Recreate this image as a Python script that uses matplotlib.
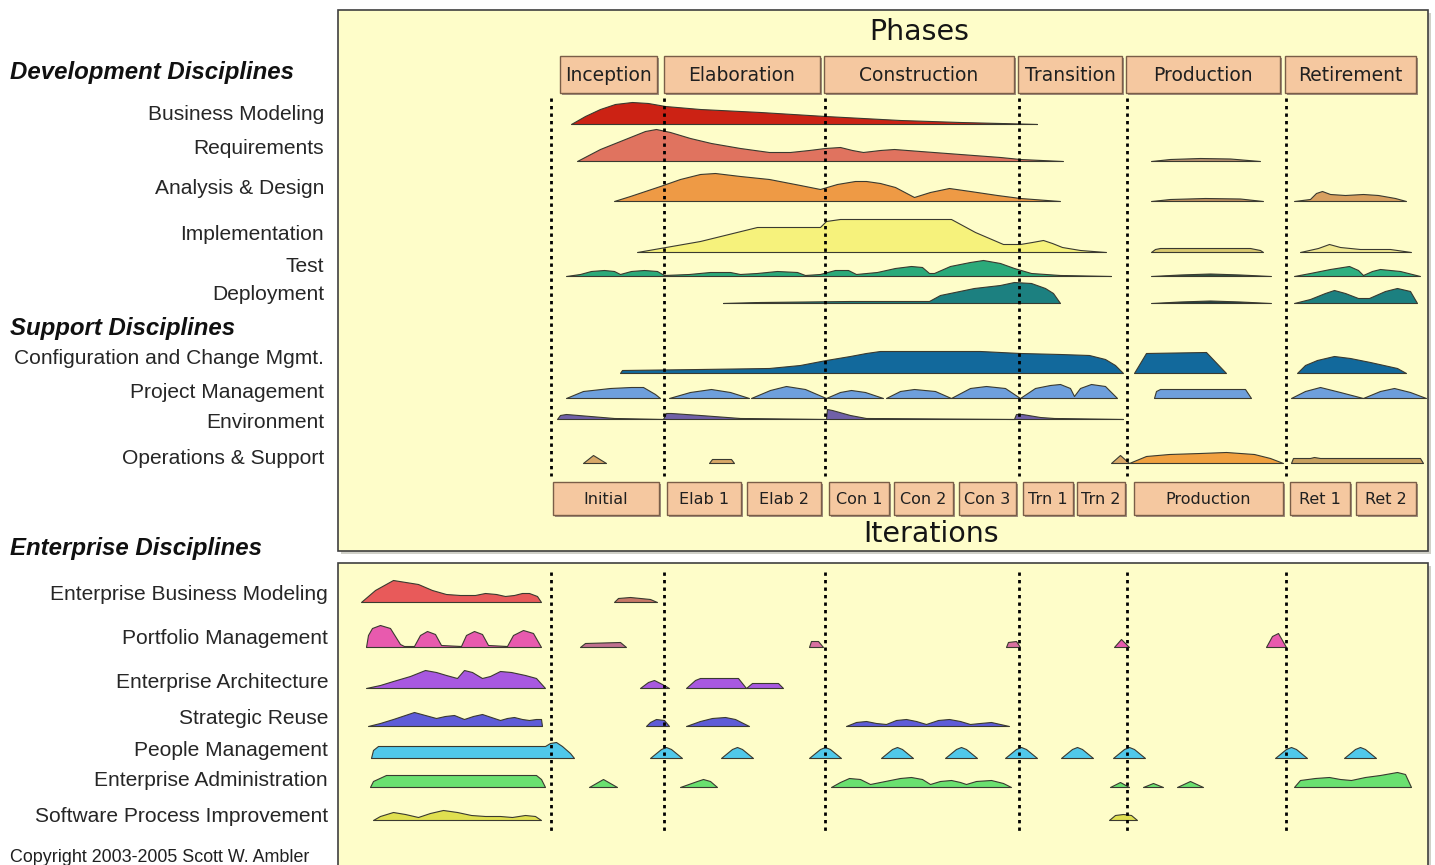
import matplotlib
matplotlib.use("Agg")
import matplotlib.pyplot as plt
from matplotlib.patches import Rectangle

# --- phases / iterations (time axis, same units as the hump profiles) ---
phase_names = ["Inception", "Elaboration", "Construction", "Transition", "Production", "Retirement"]
phase_start = [560, 664, 824, 1018, 1126, 1285]
phase_end = [657, 820, 1014, 1122, 1280, 1416]
phase_bounds = [551, 664, 825, 1019, 1127, 1286]

iter_names = ["Initial", "Elab 1", "Elab 2", "Con 1", "Con 2", "Con 3", "Trn 1", "Trn 2",
              "Production", "Ret 1", "Ret 2"]
iter_start = [553, 667, 747, 829, 894, 959, 1023, 1077, 1134, 1290, 1356]
iter_end = [659, 741, 821, 889, 953, 1016, 1073, 1125, 1283, 1350, 1416]

# --- hump profiles: list of segments, each a list of (time, effort) ---
business_modeling = [
    [(571, 0), (585, 8), (600, 15), (615, 20), (632, 22), (648, 21), (665, 18), (700, 15),
     (760, 12), (825, 8), (900, 4), (960, 2), (1000, 1), (1037, 0)],
]
requirements = [
    [(577, 0), (600, 12), (625, 22), (645, 30), (656, 32), (670, 29), (690, 23), (711, 18),
     (740, 13), (769, 9), (790, 9), (809, 11), (825, 13), (840, 14), (852, 11), (863, 9),
     (880, 11), (894, 12), (920, 10), (960, 7), (1000, 4), (1020, 2), (1063, 0)],
    [(1151, 0), (1170, 2), (1200, 3), (1230, 2.5), (1260, 0)],
]
analysis_design = [
    [(614, 0), (630, 5), (645, 10), (660, 15), (680, 22), (700, 27), (715, 28), (740, 25),
     (769, 22), (800, 16), (820, 12), (837, 17), (855, 20), (866, 20), (880, 18), (895, 14),
     (914, 4), (930, 9), (949, 13), (970, 10), (997, 6), (1020, 3), (1060, 0)],
    [(1151, 0), (1170, 2), (1205, 3), (1240, 2.5), (1263, 0)],
    [(1294, 0), (1310, 2), (1316, 8), (1322, 10), (1330, 7), (1345, 6), (1363, 7),
     (1378, 6), (1395, 3), (1406, 0)],
]
implementation = [
    [(637, 0), (700, 11), (757, 25), (820, 25), (826, 31), (840, 33), (951, 33), (975, 20),
     (1003, 8), (1020, 8), (1032, 10), (1043, 12), (1052, 9), (1062, 5), (1080, 2), (1106, 0)],
    [(1151, 0), (1155, 3), (1160, 4), (1250, 4), (1260, 2), (1263, 0)],
    [(1300, 0), (1318, 4), (1329, 8), (1340, 5), (1360, 3), (1390, 3), (1411, 0)],
]
test = [
    [(566, 0), (580, 2), (591, 5), (604, 6), (614, 5), (620, 2), (631, 5), (644, 6), (657, 5),
     (664, 1), (689, 2), (710, 4), (730, 4), (740, 2), (757, 3), (777, 5), (797, 4), (805, 1),
     (820, 2), (835, 6), (848, 6), (856, 2), (877, 4), (895, 8), (911, 10), (922, 9), (929, 3),
     (934, 3), (950, 10), (970, 14), (983, 16), (1000, 13), (1014, 8), (1031, 3), (1060, 1),
     (1111, 0)],
    [(1151, 0), (1180, 1.5), (1210, 2.5), (1240, 1.5), (1271, 0)],
    [(1294, 0), (1310, 3), (1330, 7), (1349, 10), (1358, 6), (1363, 1), (1372, 5), (1380, 7),
     (1400, 5), (1420, 0)],
]
deployment = [
    [(723, 0), (760, 1), (850, 2), (929, 2), (940, 8), (974, 15), (1000, 18), (1014, 21),
     (1031, 20), (1045, 15), (1053, 10), (1060, 0)],
    [(1151, 0), (1180, 1.5), (1210, 2.5), (1240, 1.5), (1271, 0)],
    [(1294, 0), (1310, 4), (1325, 10), (1334, 13), (1345, 10), (1358, 5), (1369, 5),
     (1385, 12), (1397, 15), (1410, 12), (1417, 0)],
]
config_change = [
    [(620, 0), (622, 3), (700, 4), (769, 5), (800, 8), (826, 13), (850, 17), (866, 20),
     (880, 22), (917, 22), (980, 22), (1020, 20), (1060, 19), (1089, 18), (1105, 14),
     (1115, 8), (1123, 0)],
    [(1134, 0), (1146, 20), (1206, 21), (1226, 0)],
    [(1297, 0), (1305, 8), (1317, 13), (1334, 17), (1350, 15), (1370, 11), (1397, 5), (1406, 0)],
]
project_mgmt = [
    [(566, 0), (583, 7), (610, 10), (631, 11), (643, 11), (655, 4), (660, 0)],
    [(669, 0), (690, 6), (711, 9), (730, 6), (749, 0)],
    [(751, 0), (770, 8), (786, 12), (805, 9), (826, 0)],
    [(826, 0), (840, 6), (851, 8), (865, 6), (883, 0)],
    [(886, 0), (900, 7), (914, 9), (935, 7), (951, 0)],
    [(951, 0), (970, 10), (986, 12), (1005, 10), (1020, 0)],
    [(1020, 0), (1035, 10), (1050, 13), (1060, 14), (1070, 10), (1074, 2), (1080, 10),
     (1091, 14), (1105, 12), (1117, 0)],
    [(1154, 0), (1156, 7), (1160, 9), (1245, 9), (1251, 0)],
    [(1291, 0), (1305, 7), (1320, 11), (1340, 6), (1363, 0)],
    [(1363, 0), (1380, 7), (1394, 10), (1410, 6), (1426, 0)],
]
environment = [
    [(557, 0), (560, 4), (566, 5), (590, 3), (614, 1), (663, 0)],
    [(663, 0), (666, 6), (671, 6), (700, 4), (740, 1), (826, 0)],
    [(826, 0), (827, 10), (832, 9), (850, 4), (866, 1), (1014, 0)],
    [(1014, 0), (1016, 5), (1022, 5), (1040, 2), (1054, 1), (1123, 0)],
]
operations = [
    [(583, 0), (593, 8), (606, 0)],
    [(709, 0), (712, 4), (731, 4), (734, 0)],
    [(1111, 0), (1120, 8), (1129, 0)],
    [(1129, 0), (1146, 7), (1169, 9), (1200, 10), (1226, 11), (1254, 9), (1270, 5), (1283, 0)],
    [(1291, 0), (1293, 5), (1310, 5), (1314, 6), (1320, 5), (1420, 5), (1423, 0)],
]

ent_business_modeling = [
    [(361, 0), (375, 12), (393, 22), (418, 18), (432, 12), (446, 8), (460, 7), (475, 7),
     (485, 9), (496, 8), (505, 6), (514, 7), (522, 9), (529, 9), (537, 6), (541, 0)],
    [(614, 0), (618, 4), (630, 5), (650, 3), (657, 0)],
]
portfolio_mgmt = [
    [(366, 0), (368, 12), (372, 19), (380, 22), (390, 19), (400, 3), (404, 1), (414, 1),
     (420, 12), (427, 16), (435, 13), (441, 2), (461, 1), (466, 12), (474, 16), (482, 13),
     (488, 2), (507, 1), (513, 12), (523, 17), (533, 14), (541, 0)],
    [(580, 0), (585, 4), (620, 5), (626, 0)],
    [(809, 0), (811, 6), (818, 6), (823, 0)],
    [(1006, 0), (1008, 5), (1016, 6), (1020, 0)],
    [(1114, 0), (1121, 8), (1129, 0)],
    [(1266, 0), (1272, 11), (1278, 14), (1286, 0)],
]
ent_architecture = [
    [(366, 0), (380, 3), (393, 7), (410, 12), (425, 18), (436, 16), (446, 13), (457, 10),
     (464, 18), (472, 16), (482, 10), (490, 12), (500, 17), (511, 16), (525, 13), (536, 10),
     (545, 0)],
    [(640, 0), (648, 6), (654, 8), (662, 4), (669, 0)],
    [(686, 0), (695, 8), (700, 10), (738, 10), (746, 0)],
    [(746, 0), (752, 5), (778, 5), (783, 0)],
]
strategic_reuse = [
    [(368, 0), (380, 3), (393, 7), (405, 11), (414, 14), (425, 11), (436, 8), (445, 10),
     (454, 11), (464, 7), (473, 10), (482, 12), (491, 9), (500, 6), (507, 8), (514, 9),
     (522, 7), (529, 6), (536, 7), (541, 7), (542, 0)],
    [(646, 0), (650, 4), (656, 7), (664, 6), (669, 0)],
    [(686, 0), (700, 5), (712, 8), (725, 9), (735, 7), (749, 0)],
    [(846, 0), (856, 4), (866, 5), (876, 3), (886, 2), (896, 6), (906, 7), (916, 5), (926, 2),
     (938, 6), (949, 7), (960, 5), (970, 2), (980, 3), (991, 4), (1009, 0)],
]
people_mgmt = [
    [(371, 0), (373, 8), (378, 12), (545, 12), (550, 15), (556, 16), (562, 12), (570, 5), (574, 0)],
    [(650, 0), (661, 9), (666, 11), (671, 9), (682, 0)],
    [(721, 0), (732, 9), (737, 11), (742, 9), (753, 0)],
    [(809, 0), (820, 9), (825, 11), (830, 9), (841, 0)],
    [(881, 0), (892, 9), (897, 11), (902, 9), (913, 0)],
    [(945, 0), (956, 9), (961, 11), (966, 9), (977, 0)],
    [(1005, 0), (1016, 9), (1021, 11), (1026, 9), (1037, 0)],
    [(1061, 0), (1072, 9), (1077, 11), (1082, 9), (1093, 0)],
    [(1113, 0), (1124, 9), (1129, 11), (1134, 9), (1145, 0)],
    [(1275, 0), (1286, 9), (1291, 11), (1296, 9), (1307, 0)],
    [(1344, 0), (1355, 9), (1360, 11), (1365, 9), (1376, 0)],
]
ent_administration = [
    [(370, 0), (373, 6), (386, 12), (536, 12), (541, 8), (545, 0)],
    [(589, 0), (603, 8), (617, 0)],
    [(680, 0), (697, 6), (703, 8), (710, 6), (717, 0)],
    [(831, 0), (840, 5), (849, 9), (860, 8), (870, 3), (885, 6), (900, 9), (911, 10), (922, 8),
     (930, 3), (940, 6), (951, 7), (960, 5), (966, 3), (976, 6), (991, 7), (1003, 4), (1011, 0)],
    [(1110, 0), (1120, 5), (1129, 0)],
    [(1143, 0), (1153, 4), (1163, 0)],
    [(1177, 0), (1190, 6), (1203, 0)],
    [(1294, 0), (1300, 7), (1315, 9), (1329, 10), (1340, 8), (1351, 7), (1365, 10), (1380, 12),
     (1397, 15), (1405, 13), (1411, 0)],
]
software_process = [
    [(373, 0), (380, 4), (393, 8), (405, 6), (418, 3), (430, 7), (443, 10), (457, 8), (471, 5),
     (485, 4), (500, 4), (512, 3), (525, 5), (535, 4), (541, 0)],
    [(1109, 0), (1115, 5), (1123, 6), (1131, 5), (1137, 0)],
]

# --- layout: label, label y, hump baseline y, profile, colour per segment ---
dev_rows = [
    ("Business Modeling", 115, 124, business_modeling, ["#CC2214"]),
    ("Requirements", 148, 161, requirements, ["#E0735F", "#B89070"]),
    ("Analysis & Design", 189, 201, analysis_design, ["#EE9A45", "#C09060", "#D8A060"]),
    ("Implementation", 235, 252, implementation, ["#F6F27C", "#D8C870", "#F0E890"]),
    ("Test", 266, 276, test, ["#2BAA7A", "#305040", "#2EB080"]),
    ("Deployment", 294, 303, deployment, ["#1C8080", "#204040", "#1C8080"]),
]
support_rows = [
    ("Configuration and Change Mgmt.", 359, 373, config_change, ["#12699C"] * 3),
    ("Project Management", 392, 398, project_mgmt, ["#6E9FDC"] * 10),
    ("Environment", 423, 419, environment, ["#7060A8"] * 4),
    ("Operations & Support", 458, 463, operations,
     ["#D8A868", "#D8A868", "#D8A868", "#F0A040", "#C8A060"]),
]
ent_rows = [
    ("Enterprise Business Modeling", 594, 602, ent_business_modeling, ["#E85A5A", "#C87868"]),
    ("Portfolio Management", 638, 647, portfolio_mgmt,
     ["#E85AAE", "#C07090", "#D870A0", "#D870A0", "#E85AAE", "#E85AAE"]),
    ("Enterprise Architecture", 682, 688, ent_architecture, ["#A858E0"] * 4),
    ("Strategic Reuse", 719, 726, strategic_reuse, ["#5E5CD8"] * 4),
    ("People Management", 751, 758, people_mgmt, ["#50C8EA"] * 11),
    ("Enterprise Administration", 781, 787, ent_administration, ["#6AE070"] * 8),
    ("Software Process Improvement", 816, 820, software_process, ["#E0E050"] * 2),
]

panel_color = "#FEFDC9"
box_color = "#F5C8A0"
label_font = "Liberation Sans"
label_color = "#262626"

fig = plt.figure(figsize=(14.35, 8.65), dpi=100)
ax = fig.add_axes([0, 0, 1, 1])
ax.set_xlim(0, 1435)
ax.set_ylim(865, 0)
ax.axis("off")

# panels with a soft shadow
for top, height in [(10, 541), (563, 320)]:
    ax.add_patch(Rectangle((341, top + 3), 1090, height, facecolor="#D0D0C8", edgecolor="none", zorder=0))
    ax.add_patch(Rectangle((338, top), 1090, height, facecolor=panel_color, edgecolor="#404040",
                           lw=1.2, zorder=1))

ax.text(919, 32, "Phases", ha="center", va="center", fontsize=20.5, family="DejaVu Sans",
        color="#151515", zorder=5)
ax.text(931, 534, "Iterations", ha="center", va="center", fontsize=20.5, family="DejaVu Sans",
        color="#151515", zorder=5)


def draw_box(x0, x1, y0, y1, text, size):
    ax.add_patch(Rectangle((x0 + 2, y0 + 2), x1 - x0, y1 - y0, facecolor="#A09080",
                           edgecolor="none", zorder=3))
    ax.add_patch(Rectangle((x0, y0), x1 - x0, y1 - y0, facecolor=box_color, edgecolor="#7A5E48",
                           lw=1.0, zorder=4))
    ax.text((x0 + x1) / 2, (y0 + y1) / 2 + 1, text, ha="center", va="center", fontsize=size,
            family="DejaVu Sans", color="#202020", zorder=5)


for name, s, e in zip(phase_names, phase_start, phase_end):
    draw_box(s, e, 56, 93, name, 13.5)
for name, s, e in zip(iter_names, iter_start, iter_end):
    draw_box(s, e, 482, 515, name, 11.5)

# phase boundaries
ax.vlines(phase_bounds, 98, 476, colors="black", lw=2, linestyles=(0, (1.2, 1.5)), zorder=6)
ax.vlines(phase_bounds, 572, 832, colors="black", lw=2, linestyles=(0, (1.2, 1.5)), zorder=6)


def draw_row(base, profile, colors):
    for seg, col in zip(profile, colors):
        t = [p[0] for p in seg]
        h = [base - p[1] for p in seg]
        ax.fill_between(t, base, h, facecolor=col, edgecolor="#3A3A30", lw=0.8, zorder=2)


for head, hy in [("Development Disciplines", 73), ("Support Disciplines", 328),
                 ("Enterprise Disciplines", 549)]:
    ax.text(10, hy, head, ha="left", va="center", fontsize=17.3, family=label_font,
            weight="bold", style="italic", color="#101010")

for label, ly, base, profile, colors in dev_rows + support_rows:
    ax.text(324, ly, label, ha="right", va="center", fontsize=15.1, family=label_font, color=label_color)
    draw_row(base, profile, colors)
for label, ly, base, profile, colors in ent_rows:
    ax.text(328, ly, label, ha="right", va="center", fontsize=15.1, family=label_font, color=label_color)
    draw_row(base, profile, colors)

ax.text(10, 858, "Copyright 2003-2005 Scott W. Ambler", ha="left", va="center", fontsize=12.9,
        family=label_font, color="#202020")

fig.savefig("out.png", dpi=100, facecolor="white")
